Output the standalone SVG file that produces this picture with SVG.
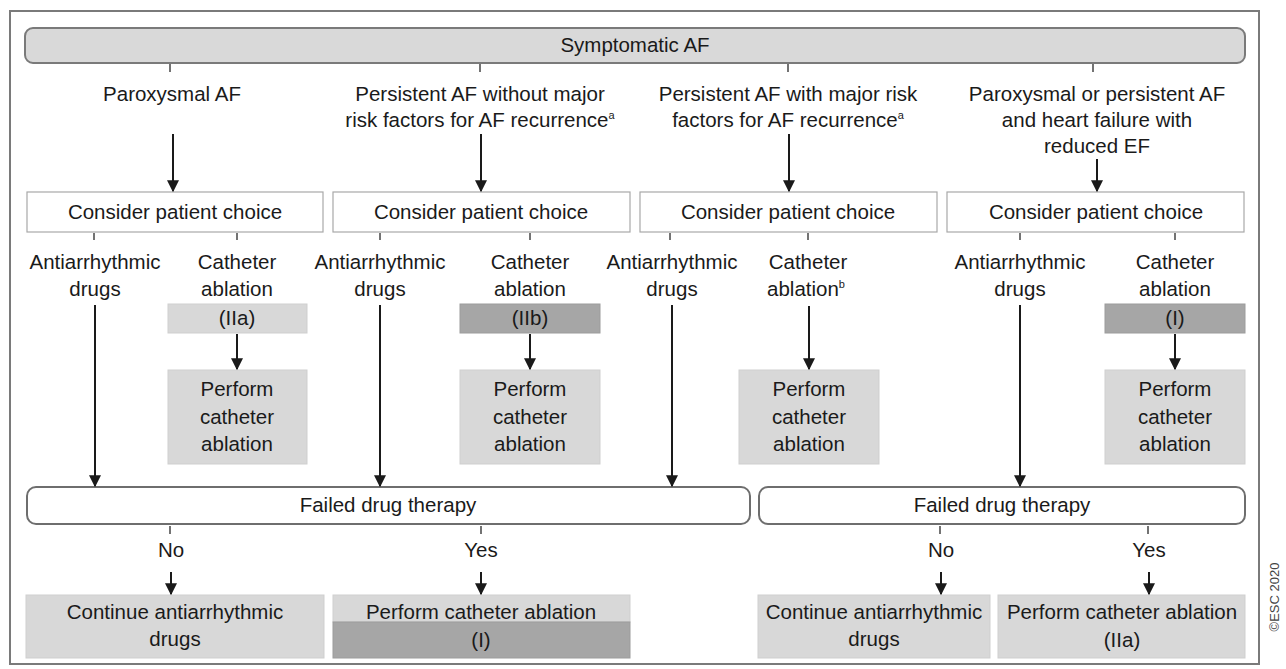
<svg xmlns="http://www.w3.org/2000/svg" width="1286" height="669" viewBox="0 0 1286 669">
<defs>
<marker id="ah" viewBox="0 0 10 10" refX="9" refY="5" markerWidth="6" markerHeight="6" markerUnits="strokeWidth" orient="auto">
<path d="M0,0 L10,5 L0,10 z" fill="#1a1a1a"/>
</marker>
</defs>
<style>
text{font-family:"Liberation Sans",Arial,sans-serif;font-size:20.5px;fill:#1a1a1a;text-anchor:middle}
.sup{font-size:11px}
.arr{stroke:#1a1a1a;stroke-width:2;fill:none;marker-end:url(#ah)}
.tick{stroke:#444;stroke-width:1.5}
.choice{fill:#fff;stroke:#a8a8a8;stroke-width:1.2}
.light{fill:#d8d8d8;stroke:#cfcfcf;stroke-width:1}
.dark{fill:#a6a6a6;stroke:#9c9c9c;stroke-width:1}
.round{fill:#fff;stroke:#6e6e6e;stroke-width:2}
</style>
<rect x="10" y="11" width="1249" height="653" fill="#fff" stroke="#7a7a7a" stroke-width="2"/>
<g id="symptomatic">
<rect x="25" y="28" width="1220" height="35" rx="8" fill="#d9d9d9" stroke="#7a7a7a" stroke-width="2"/>
<text x="635" y="52">Symptomatic AF</text>
</g>
<g id="cat1"><text x="172" y="101">Paroxysmal AF</text></g>
<g id="cat2"><text x="480" y="101">Persistent AF without major</text><text x="480" y="127">risk factors for AF recurrence<tspan class="sup" dy="-8">a</tspan></text></g>
<g id="cat3"><text x="788" y="101">Persistent AF with major risk</text><text x="788" y="127">factors for AF recurrence<tspan class="sup" dy="-8">a</tspan></text></g>
<g id="cat4"><text x="1097" y="101">Paroxysmal or persistent AF</text><text x="1097" y="127">and heart failure with</text><text x="1097" y="153">reduced EF</text></g>
<g id="choice1"><rect class="choice" x="27" y="192" width="296" height="40"/><text x="175" y="219">Consider patient choice</text></g>
<g id="choice2"><rect class="choice" x="333" y="192" width="297" height="40"/><text x="481" y="219">Consider patient choice</text></g>
<g id="choice3"><rect class="choice" x="640" y="192" width="297" height="40"/><text x="788" y="219">Consider patient choice</text></g>
<g id="choice4"><rect class="choice" x="947" y="192" width="297" height="40"/><text x="1096" y="219">Consider patient choice</text></g>
<g id="drugs1"><text x="95" y="269">Antiarrhythmic</text><text x="95" y="296">drugs</text></g>
<g id="abl1"><text x="237" y="269">Catheter</text><text x="237" y="296">ablation</text></g>
<g id="drugs2"><text x="380" y="269">Antiarrhythmic</text><text x="380" y="296">drugs</text></g>
<g id="abl2"><text x="530" y="269">Catheter</text><text x="530" y="296">ablation</text></g>
<g id="drugs3"><text x="672" y="269">Antiarrhythmic</text><text x="672" y="296">drugs</text></g>
<g id="abl3"><text x="808" y="269">Catheter</text><text x="806" y="296">ablation<tspan class="sup" dy="-8">b</tspan></text></g>
<g id="drugs4"><text x="1020" y="269">Antiarrhythmic</text><text x="1020" y="296">drugs</text></g>
<g id="abl4"><text x="1175" y="269">Catheter</text><text x="1175" y="296">ablation</text></g>
<g id="class1"><rect class="light" x="168" y="304" width="139" height="29"/><text x="237" y="325">(IIa)</text></g>
<g id="class2"><rect class="dark" x="460" y="304" width="140" height="29"/><text x="530" y="325">(IIb)</text></g>
<g id="class4"><rect class="dark" x="1105" y="304" width="140" height="29"/><text x="1175" y="325">(I)</text></g>
<g id="perf1"><rect class="light" x="168" y="370" width="139" height="94"/><text x="237" y="396">Perform</text><text x="237" y="424">catheter</text><text x="237" y="451">ablation</text></g>
<g id="perf2"><rect class="light" x="460" y="370" width="140" height="94"/><text x="530" y="396">Perform</text><text x="530" y="424">catheter</text><text x="530" y="451">ablation</text></g>
<g id="perf3"><rect class="light" x="739" y="370" width="140" height="94"/><text x="809" y="396">Perform</text><text x="809" y="424">catheter</text><text x="809" y="451">ablation</text></g>
<g id="perf4"><rect class="light" x="1105" y="370" width="140" height="94"/><text x="1175" y="396">Perform</text><text x="1175" y="424">catheter</text><text x="1175" y="451">ablation</text></g>
<g id="failed1"><rect class="round" x="27" y="487" width="723" height="37" rx="9"/><text x="388" y="512">Failed drug therapy</text></g>
<g id="failed2"><rect class="round" x="759" y="487" width="486" height="37" rx="9"/><text x="1002" y="512">Failed drug therapy</text></g>
<g id="no1"><text x="171" y="557">No</text></g>
<g id="yes1"><text x="481" y="557">Yes</text></g>
<g id="no2"><text x="941" y="557">No</text></g>
<g id="yes2"><text x="1149" y="557">Yes</text></g>
<g id="cont1"><rect class="light" x="26" y="595" width="298" height="63"/><text x="175" y="619">Continue antiarrhythmic</text><text x="175" y="646">drugs</text></g>
<g id="perfI"><rect class="light" x="333" y="595" width="297" height="27"/><rect class="dark" x="333" y="622" width="297" height="36"/><text x="481" y="619">Perform catheter ablation</text><text x="481" y="647">(I)</text></g>
<g id="cont2"><rect class="light" x="758" y="595" width="232" height="63"/><text x="874" y="619">Continue antiarrhythmic</text><text x="874" y="646">drugs</text></g>
<g id="perfIIa"><rect class="light" x="998" y="595" width="247" height="63"/><text x="1122" y="619">Perform catheter ablation</text><text x="1122" y="647">(IIa)</text></g>
<g id="connectors">
<line class="tick" x1="170" y1="64" x2="170" y2="72"/>
<line class="tick" x1="480" y1="64" x2="480" y2="72"/>
<line class="tick" x1="788" y1="64" x2="788" y2="72"/>
<line class="tick" x1="1093" y1="64" x2="1093" y2="72"/>
<line class="arr" x1="173" y1="134" x2="173" y2="191"/>
<line class="arr" x1="481" y1="134" x2="481" y2="191"/>
<line class="arr" x1="789" y1="134" x2="789" y2="191"/>
<line class="arr" x1="1097" y1="159" x2="1097" y2="191"/>
<line class="tick" x1="94" y1="233" x2="94" y2="240"/>
<line class="tick" x1="237" y1="233" x2="237" y2="240"/>
<line class="tick" x1="380" y1="233" x2="380" y2="240"/>
<line class="tick" x1="530" y1="233" x2="530" y2="240"/>
<line class="tick" x1="670" y1="233" x2="670" y2="240"/>
<line class="tick" x1="808" y1="233" x2="808" y2="240"/>
<line class="tick" x1="1020" y1="233" x2="1020" y2="240"/>
<line class="tick" x1="1175" y1="233" x2="1175" y2="240"/>
<line class="arr" x1="237" y1="334" x2="237" y2="369"/>
<line class="arr" x1="530" y1="334" x2="530" y2="369"/>
<line class="arr" x1="809" y1="306" x2="809" y2="369"/>
<line class="arr" x1="1175" y1="334" x2="1175" y2="369"/>
<line class="arr" x1="95" y1="305" x2="95" y2="486"/>
<line class="arr" x1="380" y1="305" x2="380" y2="486"/>
<line class="arr" x1="672" y1="305" x2="672" y2="486"/>
<line class="arr" x1="1020" y1="305" x2="1020" y2="486"/>
<line class="tick" x1="170" y1="526" x2="170" y2="534"/>
<line class="tick" x1="481" y1="526" x2="481" y2="534"/>
<line class="tick" x1="940" y1="526" x2="940" y2="534"/>
<line class="tick" x1="1148" y1="526" x2="1148" y2="534"/>
<line class="arr" x1="171" y1="572" x2="171" y2="594"/>
<line class="arr" x1="481" y1="572" x2="481" y2="594"/>
<line class="arr" x1="941" y1="572" x2="941" y2="594"/>
<line class="arr" x1="1149" y1="572" x2="1149" y2="594"/>
</g>
<text x="1275" y="597" transform="rotate(-90 1275 597)" style="font-size:13px;fill:#444" dy="4">©ESC 2020</text>
</svg>
